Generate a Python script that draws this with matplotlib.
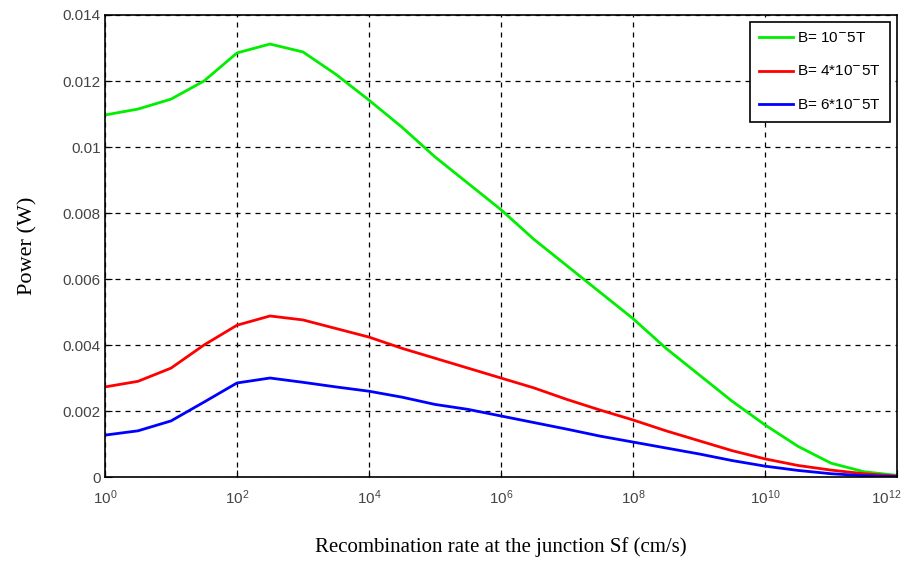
import numpy as np
import matplotlib.pyplot as plt
import matplotlib.transforms as mtransforms
from matplotlib.ticker import FixedLocator, NullLocator

# log10 of Sf (cm/s)
log_sf = [0, 0.5, 1, 1.5, 2, 2.5, 3, 3.5, 4, 4.5, 5, 5.5, 6, 6.5, 7, 7.5,
          8, 8.5, 9, 9.5, 10, 10.5, 11, 11.5, 12]

# power (W) for each magnetic field
p_b1 = [0.01097, 0.01115, 0.01145, 0.0120, 0.01285, 0.01312, 0.01288, 0.0122,
        0.01142, 0.0106, 0.0097, 0.0089, 0.0081, 0.0072, 0.0064, 0.0056,
        0.0048, 0.0039, 0.0031, 0.0023, 0.00158, 0.00093, 0.00042, 0.00016, 0.00005]
p_b4 = [0.00273, 0.0029, 0.0033, 0.0040, 0.0046, 0.00488, 0.00476, 0.0045,
        0.00424, 0.0039, 0.0036, 0.0033, 0.0030, 0.0027, 0.00235, 0.00203,
        0.00173, 0.0014, 0.0011, 0.0008, 0.00055, 0.00035, 0.00021, 0.0001, 0.00003]
p_b6 = [0.00127, 0.0014, 0.0017, 0.00227, 0.00285, 0.0030, 0.00287, 0.00273,
        0.0026, 0.00242, 0.0022, 0.00205, 0.00185, 0.00165, 0.00145, 0.00124,
        0.00106, 0.00088, 0.0007, 0.0005, 0.00033, 0.0002, 0.0001, 0.00004, 0.00001]

labels = ['B= 10$^{-}$5T', 'B= 4*10$^{-}$5T', 'B= 6*10$^{-}$5T']
colors = ['#00ee00', '#ff0000', '#0000ff']

sf = 10.0 ** np.array(log_sf)

fig = plt.figure(figsize=(9.09, 5.66), dpi=100)
ax = fig.add_axes([0.1155, 0.1572, 0.8713, 0.8163])

for p, lab, c in zip([p_b1, p_b4, p_b6], labels, colors):
    ax.plot(sf, p, color=c, lw=2, label=lab)

ax.set_xscale('log')
ax.set_xlim(1, 1e12)
ax.set_ylim(0, 0.014)
ax.xaxis.set_major_locator(FixedLocator([1e0, 1e2, 1e4, 1e6, 1e8, 1e10, 1e12]))
ax.xaxis.set_minor_locator(NullLocator())
ax.set_yticks(np.arange(0, 0.0141, 0.002))
ax.set_yticklabels(['0', '0.002', '0.004', '0.006', '0.008', '0.01', '0.012', '0.014'])

ax.grid(True, color='black', linestyle=(0, (4, 4)), linewidth=0.9)
for s in ax.spines.values():
    s.set_linewidth(1.2)
ax.tick_params(direction='in', length=5, labelsize=11, labelcolor='#444444',
               top=False, right=False)
for t in ax.get_xticklabels() + ax.get_yticklabels():
    t.set_family('Liberation Sans')
ax.tick_params(axis='x', pad=8)
ax.tick_params(axis='y', pad=3)

# keep the last x tick label inside the figure
fig.canvas.draw()
last = ax.get_xticklabels()[-1]
last.set_transform(last.get_transform() +
                   mtransforms.ScaledTranslation(-8 / 72, 0, fig.dpi_scale_trans))

ax.set_xlabel('Recombination rate at the junction Sf (cm/s)', family='Liberation Serif',
              fontsize=15, labelpad=22)
ax.set_ylabel('Power (W)', family='Liberation Serif', fontsize=16, labelpad=18)

leg = ax.legend(loc='upper right', fancybox=False, edgecolor='black', framealpha=1,
                prop={'family': 'Liberation Sans', 'size': 11}, handlelength=2.2,
                handletextpad=0.3, borderaxespad=0.45, labelspacing=1.25,
                borderpad=0.6)
leg.get_frame().set_linewidth(1.2)

fig.savefig('out.png', dpi=100)
